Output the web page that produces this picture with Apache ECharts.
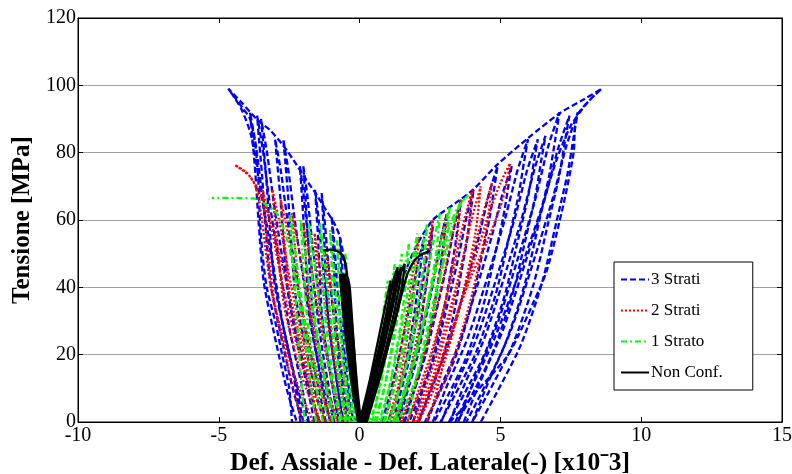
<!DOCTYPE html>
<html>
<head>
    <meta content="text/html; charset=UTF-8" http-equiv="Content-Type">
    <title>Tensione - deformazione</title>
    <style>
        html, body {
            height: 100%;
            width: 100%;
            margin: 0;
            padding: 0;
            background: #fff;
        }
    </style>
    <script src="https://cdn.jsdelivr.net/npm/echarts@6/dist/echarts.min.js"></script>
</head>
<body>
<div id="main" style="width: 792px; height: 474px;"></div>

<script type="text/javascript">
    // assi
    var xTicks = [-10, -5, 0, 5, 10, 15];
    var yTicks = [0, 20, 40, 60, 80, 100, 120];
    var lengend = ['3 Strati', '2 Strati', '1 Strato', 'Non Conf.'];

    // 3 strati - lato assiale (destra)
    var strati3Dx = [
        [[0.05, 0], [0.5, 15], [1.0, 30], [1.5, 42], [2.0, 52], [2.6, 60], [3.4, 65], [4.03, 69], [4.87, 76.3], [5.98, 84.3], [7.12, 91.8], [8.0, 96], [8.6, 99]],
        [[0.8, 0], [1.0, 6], [1.3, 16], [1.65, 29], [1.9, 40], [2.15, 50], [2.3, 55], [2.22, 50], [2.1, 42], [1.92, 31], [1.62, 17], [1.3, 7], [1.0, 0]],
        [[1.2, 0], [1.4, 7], [1.72, 17], [2.04, 31], [2.26, 42], [2.45, 52], [2.6, 58], [2.54, 53], [2.46, 46], [2.32, 38], [2.12, 26], [1.84, 15], [1.54, 6], [1.31, 0]],
        [[1.4, 0], [1.64, 7.4], [2.03, 18.6], [2.42, 33.5], [2.69, 44.6], [2.91, 55.2], [3.1, 62], [3.03, 57], [2.93, 49.6], [2.76, 40.3], [2.52, 27.9], [2.18, 15.5], [1.81, 6.2], [1.54, 0]],
        [[1.6, 0], [1.88, 7.9], [2.34, 19.8], [2.8, 35.6], [3.12, 47.5], [3.38, 58.7], [3.6, 66], [3.52, 60.7], [3.4, 52.8], [3.2, 42.9], [2.92, 29.7], [2.52, 16.5], [2.08, 6.6], [1.76, 0]],
        [[1.9, 0], [2.2, 8.3], [2.7, 20.7], [3.19, 37.3], [3.53, 49.7], [3.81, 61.4], [4.05, 69], [3.96, 63.5], [3.84, 55.2], [3.62, 44.9], [3.32, 31.1], [2.89, 17.3], [2.42, 6.9], [2.07, 0]],
        [[2.1, 0], [2.49, 9.1], [3.14, 22.8], [3.78, 41], [4.23, 54.7], [4.59, 67.6], [4.9, 76], [4.79, 69.9], [4.62, 60.8], [4.34, 49.4], [3.95, 34.2], [3.39, 19], [2.77, 7.6], [2.32, 0]],
        [[2.4, 0], [2.82, 9.1], [3.51, 22.8], [4.2, 41], [4.68, 54.7], [5.07, 67.6], [5.4, 76], [5.28, 69.9], [5.1, 60.8], [4.8, 49.4], [4.38, 34.2], [3.78, 19], [3.12, 7.6], [2.64, 0]],
        [[2.6, 0], [3.07, 10.1], [3.85, 25.2], [4.63, 45.4], [5.17, 60.5], [5.61, 74.8], [5.98, 84], [5.84, 77.3], [5.64, 67.2], [5.3, 54.6], [4.83, 37.8], [4.15, 21], [3.41, 8.4], [2.87, 0]],
        [[2.9, 0], [3.38, 10.1], [4.17, 25.2], [4.96, 45.4], [5.51, 60.5], [5.95, 74.8], [6.33, 84], [6.19, 77.3], [5.99, 67.2], [5.64, 54.6], [5.16, 37.8], [4.48, 21], [3.72, 8.4], [3.17, 0]],
        [[3.2, 0], [3.68, 10.2], [4.46, 25.5], [5.24, 45.9], [5.78, 61.2], [6.23, 75.7], [6.6, 85], [6.46, 78.2], [6.26, 68], [5.92, 55.3], [5.44, 38.3], [4.76, 21.3], [4.02, 8.5], [3.47, 0]],
        [[3.5, 0], [4.0, 11], [4.83, 27.6], [5.66, 49.7], [6.24, 66.2], [6.7, 81.9], [7.1, 92], [6.96, 84.6], [6.74, 73.6], [6.38, 59.8], [5.88, 41.4], [5.16, 23], [4.36, 9.2], [3.79, 0]],
        [[3.7, 0], [4.23, 10.9], [5.09, 27.3], [5.95, 49.1], [6.55, 65.5], [7.04, 81], [7.45, 91], [7.3, 83.7], [7.08, 72.8], [6.7, 59.2], [6.18, 41], [5.43, 22.8], [4.6, 9.1], [4.0, 0]],
        [[4.0, 0], [4.53, 11], [5.39, 27.6], [6.25, 49.7], [6.85, 66.2], [7.34, 81.9], [7.75, 92], [7.6, 84.6], [7.38, 73.6], [7.0, 59.8], [6.48, 41.4], [5.73, 23], [4.9, 9.2], [4.3, 0]],
        [[3.4, 0], [3.9, 9], [4.8, 25], [5.7, 45], [6.4, 62], [7.0, 78], [7.5, 88], [8.1, 95], [8.6, 99], [7.72, 91], [7.6, 80], [7.25, 65], [6.65, 45], [6.2, 36], [5.6, 25], [5.2, 19], [4.2, 9.5], [3.6, 3.5], [3.2, 0]]
    ];
    // 3 strati - lato laterale (sinistra)
    var strati3Sx = [
        [[-0.05, 0], [-0.2, 15], [-0.35, 30], [-0.5, 45], [-0.7, 55], [-0.93, 59.5], [-1.2, 63], [-1.52, 67.4], [-1.9, 72], [-2.23, 76.3], [-2.7, 82], [-3.18, 86.7], [-3.6, 89.5], [-4.2, 95], [-4.66, 99]],
        [[-0.15, 0], [-0.23, 6.6], [-0.35, 16.5], [-0.48, 29.7], [-0.57, 39.6], [-0.64, 49], [-0.7, 55], [-0.68, 50.6], [-0.65, 44], [-0.61, 35.8], [-0.56, 24.8], [-0.43, 13.8], [-0.32, 5.5], [-0.22, 0]],
        [[-0.3, 0], [-0.4, 7.3], [-0.56, 18.3], [-0.71, 32.9], [-0.82, 43.9], [-0.91, 54.3], [-0.99, 61], [-0.96, 56.1], [-0.92, 48.8], [-0.88, 39.7], [-0.81, 27.5], [-0.65, 15.3], [-0.51, 6.1], [-0.38, 0]],
        [[-0.45, 0], [-0.58, 8.2], [-0.78, 20.4], [-0.99, 36.7], [-1.13, 49], [-1.25, 60.5], [-1.35, 68], [-1.31, 62.6], [-1.26, 54.4], [-1.21, 44.2], [-1.12, 30.6], [-0.9, 17], [-0.72, 6.8], [-0.56, 0]],
        [[-0.6, 0], [-0.74, 8.3], [-0.96, 20.7], [-1.19, 37.3], [-1.34, 49.7], [-1.47, 61.4], [-1.58, 69], [-1.54, 63.5], [-1.48, 55.2], [-1.42, 44.9], [-1.33, 31.1], [-1.09, 17.3], [-0.89, 6.9], [-0.72, 0]],
        [[-0.75, 0], [-0.93, 9.1], [-1.21, 22.8], [-1.5, 41], [-1.7, 54.7], [-1.86, 67.6], [-2.0, 76], [-1.95, 69.9], [-1.88, 60.8], [-1.8, 49.4], [-1.68, 34.2], [-1.38, 19], [-1.13, 7.6], [-0.9, 0]],
        [[-0.9, 0], [-1.07, 9.1], [-1.35, 22.8], [-1.63, 41], [-1.83, 54.7], [-1.99, 67.6], [-2.12, 76], [-2.07, 69.9], [-2.0, 60.8], [-1.92, 49.4], [-1.8, 34.2], [-1.51, 19], [-1.27, 7.6], [-1.05, 0]],
        [[-1.05, 0], [-1.28, 10.1], [-1.66, 25.2], [-2.05, 45.4], [-2.31, 60.5], [-2.53, 74.8], [-2.71, 84], [-2.64, 77.3], [-2.54, 67.2], [-2.44, 54.6], [-2.28, 37.8], [-1.88, 21], [-1.55, 8.4], [-1.25, 0]],
        [[-1.2, 0], [-1.45, 10.1], [-1.87, 25.2], [-2.28, 45.4], [-2.57, 60.5], [-2.8, 74.8], [-3.0, 84], [-2.93, 77.3], [-2.82, 67.2], [-2.71, 54.6], [-2.53, 37.8], [-2.1, 21], [-1.74, 8.4], [-1.42, 0]],
        [[-1.6, 0], [-1.87, 10.8], [-2.3, 27], [-2.74, 48.6], [-3.04, 64.8], [-3.29, 80.1], [-3.5, 90], [-3.42, 82.8], [-3.31, 72], [-3.2, 58.5], [-3.01, 40.5], [-2.55, 22.5], [-2.17, 9], [-1.83, 0]],
        [[-1.8, 0], [-2.06, 10.9], [-2.48, 27.3], [-2.9, 49.1], [-3.2, 65.5], [-3.44, 81], [-3.64, 91], [-3.57, 83.7], [-3.46, 72.8], [-3.35, 59.2], [-3.16, 41], [-2.72, 22.8], [-2.35, 9.1], [-2.02, 0]],
        [[-2.0, 0], [-2.26, 11], [-2.7, 27.6], [-3.13, 49.7], [-3.44, 66.2], [-3.68, 81.9], [-3.89, 92], [-3.81, 84.6], [-3.7, 73.6], [-3.59, 59.8], [-3.4, 41.4], [-2.95, 23], [-2.57, 9.2], [-2.23, 0]],
        [[-2.1, 0], [-2.35, 14], [-2.75, 30], [-3.15, 50], [-3.5, 68], [-3.85, 85], [-4.2, 93], [-4.66, 99], [-4.13, 93], [-3.89, 90], [-3.7, 82], [-3.6, 72], [-3.54, 60], [-3.45, 50], [-3.3, 40], [-3.0, 30], [-2.75, 20], [-2.5, 10], [-2.4, 0]]
    ];
    // 2 strati - destra
    var strati2Dx = [
        [[0.9, 0], [1.34, 16.5], [1.69, 33], [1.93, 46.8], [2.1, 55], [2.0, 44], [1.74, 27.5], [1.38, 11], [1.0, 0]],
        [[1.1, 0], [1.66, 18], [2.09, 36], [2.39, 51], [2.6, 60], [2.48, 48], [2.15, 30], [1.7, 12], [1.22, 0]],
        [[1.3, 0], [1.97, 18.6], [2.49, 37.2], [2.85, 52.7], [3.1, 62], [2.96, 49.6], [2.56, 31], [2.02, 12.4], [1.44, 0]],
        [[1.5, 0], [2.28, 19.8], [2.89, 39.6], [3.31, 56.1], [3.6, 66], [3.43, 52.8], [2.97, 33], [2.34, 13.2], [1.67, 0]],
        [[1.7, 0], [2.55, 20.7], [3.22, 41.4], [3.68, 58.7], [4.0, 69], [3.82, 55.2], [3.31, 34.5], [2.62, 13.8], [1.88, 0]],
        [[1.9, 0], [2.79, 21], [3.48, 42], [3.96, 59.5], [4.3, 70], [4.11, 56], [3.58, 35], [2.86, 14], [2.09, 0]],
        [[2.1, 0], [3.06, 21.3], [3.82, 42.6], [4.34, 60.4], [4.7, 71], [4.49, 56.8], [3.92, 35.5], [3.14, 14.2], [2.31, 0]],
        [[2.0, 0], [2.6, 12], [3.3, 28], [4.0, 46], [4.6, 62], [5.0, 71], [5.34, 76.8], [5.2, 70], [5.0, 64], [4.5, 53], [4.0, 44], [3.6, 35], [3.0, 18], [2.7, 8], [2.4, 0]]
    ];
    // 2 strati - sinistra
    var strati2Sx = [
        [[-0.3, 0], [-0.63, 15.6], [-0.89, 31.2], [-1.07, 44.2], [-1.2, 52], [-1.13, 41.6], [-1.0, 26], [-0.71, 10.4], [-0.41, 0]],
        [[-0.45, 0], [-0.88, 16.8], [-1.21, 33.6], [-1.44, 47.6], [-1.6, 56], [-1.51, 44.8], [-1.35, 28], [-0.97, 11.2], [-0.59, 0]],
        [[-0.6, 0], [-1.12, 17.7], [-1.52, 35.4], [-1.8, 50.2], [-2.0, 59], [-1.89, 47.2], [-1.69, 29.5], [-1.23, 11.8], [-0.77, 0]],
        [[-0.8, 0], [-1.39, 18.6], [-1.86, 37.2], [-2.18, 52.7], [-2.4, 62], [-2.27, 49.6], [-2.05, 31], [-1.52, 12.4], [-0.99, 0]],
        [[-1.0, 0], [-1.67, 19.8], [-2.19, 39.6], [-2.55, 56.1], [-2.8, 66], [-2.66, 52.8], [-2.4, 33], [-1.81, 13.2], [-1.22, 0]],
        [[-1.2, 0], [-1.9, 20.7], [-2.45, 41.4], [-2.83, 58.7], [-3.1, 69], [-2.95, 55.2], [-2.68, 34.5], [-2.06, 13.8], [-1.43, 0]],
        [[-1.4, 0], [-2.16, 20.7], [-2.75, 41.4], [-3.16, 58.7], [-3.45, 69], [-3.29, 55.2], [-3.0, 34.5], [-2.32, 13.8], [-1.65, 0]],
        [[-1.5, 0], [-1.75, 12], [-2.2, 28], [-2.7, 45], [-3.1, 58], [-3.5, 67], [-3.9, 73], [-4.42, 76.3], [-4.0, 74], [-3.7, 70], [-3.5, 62], [-3.35, 52], [-3.15, 40], [-2.85, 28], [-2.5, 15], [-2.2, 5], [-2.05, 0]]
    ];
    // 1 strato - destra
    var strato1Dx = [
        [[0.2, 0], [0.5, 12.6], [0.73, 25.2], [0.89, 35.7], [1.0, 42], [0.94, 33.6], [0.76, 21], [0.52, 8.4], [0.26, 0]],
        [[0.3, 0], [0.65, 14.1], [0.93, 28.2], [1.12, 40], [1.25, 47], [1.17, 37.6], [0.97, 23.5], [0.68, 9.4], [0.38, 0]],
        [[0.45, 0], [0.84, 15], [1.14, 30], [1.35, 42.5], [1.5, 50], [1.42, 40], [1.19, 25], [0.87, 10], [0.53, 0]],
        [[0.6, 0], [1.03, 15.9], [1.36, 31.8], [1.59, 45], [1.75, 53], [1.66, 42.4], [1.41, 26.5], [1.06, 10.6], [0.69, 0]],
        [[0.75, 0], [1.23, 16.8], [1.61, 33.6], [1.87, 47.6], [2.05, 56], [1.95, 44.8], [1.66, 28], [1.27, 11.2], [0.85, 0]],
        [[0.9, 0], [1.46, 17.7], [1.89, 35.4], [2.19, 50.2], [2.4, 59], [2.28, 47.2], [1.95, 29.5], [1.5, 11.8], [1.02, 0]],
        [[1.05, 0], [1.72, 18.6], [2.24, 37.2], [2.6, 52.7], [2.85, 62], [2.71, 49.6], [2.31, 31], [1.77, 12.4], [1.19, 0]],
        [[1.2, 0], [1.94, 19.2], [2.52, 38.4], [2.92, 54.4], [3.2, 64], [3.04, 51.2], [2.6, 32], [2.0, 12.8], [1.36, 0]],
        [[1.3, 0], [1.7, 12], [2.2, 28], [2.7, 45], [3.1, 56], [3.5, 64], [3.86, 67.4], [3.6, 65], [3.3, 58], [3.0, 48], [2.6, 35], [2.2, 20], [1.9, 8], [1.7, 0]]
    ];
    // 1 strato - sinistra
    var strato1Sx = [
        [[-0.1, 0], [-0.25, 15], [-0.36, 30], [-0.44, 42.5], [-0.5, 50], [-0.47, 40], [-0.41, 25], [-0.28, 10], [-0.15, 0]],
        [[-0.2, 0], [-0.42, 16.2], [-0.6, 32.4], [-0.72, 45.9], [-0.8, 54], [-0.75, 43.2], [-0.67, 27], [-0.47, 10.8], [-0.27, 0]],
        [[-0.35, 0], [-0.61, 17.1], [-0.81, 34.2], [-0.95, 48.5], [-1.05, 57], [-0.99, 45.6], [-0.9, 28.5], [-0.67, 11.4], [-0.43, 0]],
        [[-0.5, 0], [-0.83, 17.7], [-1.09, 35.4], [-1.27, 50.2], [-1.4, 59], [-1.33, 47.2], [-1.2, 29.5], [-0.91, 11.8], [-0.61, 0]],
        [[-0.7, 0], [-1.11, 17.7], [-1.43, 35.4], [-1.65, 50.2], [-1.8, 59], [-1.71, 47.2], [-1.56, 29.5], [-1.2, 11.8], [-0.83, 0]],
        [[-0.95, 0], [-1.38, 18], [-1.71, 36], [-1.94, 51], [-2.1, 60], [-2.01, 48], [-1.85, 30], [-1.47, 12], [-1.09, 0]],
        [[-1.3, 0], [-1.73, 18.5], [-2.07, 36.9], [-2.31, 52.3], [-2.47, 61.5], [-2.45, 57], [-2.4, 50], [-2.3, 40], [-2.2, 28], [-2.1, 15], [-2.0, 5], [-1.95, 0]],
        [[-1.55, 0], [-1.75, 12], [-2.0, 28], [-2.3, 44], [-2.6, 55], [-2.95, 62], [-3.3, 64.4], [-3.77, 66.4], [-5.25, 66.6]]
    ];
    // non confinato
    var nonConfDx = [
        [[0, 0], [0.35, 12], [0.7, 26], [1.0, 38], [1.1, 42], [1.05, 36], [0.8, 24], [0.45, 11], [0.08, 0]],
        [[0, 0], [0.4, 12], [0.8, 26], [1.1, 38], [1.25, 43], [1.2, 36], [0.9, 24], [0.5, 11], [0.1, 0]],
        [[0, 0], [0.5, 15], [0.9, 30], [1.2, 42], [1.35, 46], [1.3, 40], [1.0, 28], [0.6, 14], [0.15, 0]],
        [[0.02, 0], [0.55, 15], [0.98, 30], [1.3, 42], [1.48, 46], [1.4, 40], [1.08, 27], [0.68, 14], [0.2, 0]],
        [[0.05, 0], [0.6, 15], [1.05, 30], [1.4, 43], [1.6, 47], [1.5, 40], [1.15, 27], [0.75, 14], [0.25, 0]],
        [[0.1, 0], [0.7, 14], [1.2, 28], [1.5, 38], [1.7, 44], [1.95, 48], [2.2, 49.8], [2.5, 50.8]]
    ];
    var nonConfSx = [
        [[0, 0], [-0.1, 10], [-0.2, 22], [-0.28, 32], [-0.35, 40], [-0.42, 43], [-0.38, 36], [-0.27, 22], [-0.15, 10], [-0.03, 0]],
        [[0, 0], [-0.12, 10], [-0.25, 22], [-0.35, 32], [-0.45, 40], [-0.55, 44], [-0.5, 36], [-0.35, 22], [-0.2, 10], [-0.05, 0]],
        [[0, 0], [-0.14, 10], [-0.28, 22], [-0.4, 32], [-0.52, 40], [-0.62, 44], [-0.55, 35], [-0.39, 21], [-0.21, 9], [-0.05, 0]],
        [[0, 0], [-0.15, 10], [-0.3, 22], [-0.45, 33], [-0.6, 40], [-0.7, 44], [-0.6, 34], [-0.42, 20], [-0.22, 8], [-0.05, 0]],
        [[0.05, 0], [-0.08, 10], [-0.2, 22], [-0.3, 32], [-0.4, 40], [-0.48, 46], [-0.6, 49.5], [-0.8, 50.8], [-1.05, 51.2], [-1.3, 51]]
    ];

    var stili = [
        {color: '#0000ff', type: [6, 3], width: 2.3},
        {color: '#ff0000', type: [2, 2], width: 2.3},
        {color: '#00ff00', type: [6, 3, 2, 3], width: 2.3},
        {color: '#000000', type: 'solid', width: 2.3}
    ];
    var gruppi = [
        strati3Dx.concat(strati3Sx),
        strati2Dx.concat(strati2Sx),
        strato1Dx.concat(strato1Sx),
        nonConfDx.concat(nonConfSx)
    ];

    function createChart() {
        var myChart = echarts.init(document.getElementById('main'));
        var font = 'Liberation Serif';
        var series = [];
        for (var g = 0; g < gruppi.length; g++) {
            for (var i = 0; i < gruppi[g].length; i++) {
                series.push({
                    name: lengend[g],
                    type: 'line',
                    data: gruppi[g][i],
                    symbol: 'none',
                    smooth: 0.25,
                    silent: true,
                    z: 2 + g,
                    lineStyle: {
                        color: stili[g].color,
                        type: stili[g].type,
                        width: stili[g].width
                    },
                    itemStyle: {color: stili[g].color}
                });
            }
        }
        var option = {
            animation: false,
            grid: {
                left: 78,
                right: 10,
                top: 18,
                bottom: 52,
                outerBoundsMode: 'none',
                containLabel: false,
                show: true,
                borderColor: '#000',
                borderWidth: 1
            },
            legend: {
                data: lengend,
                orient: 'vertical',
                left: 614,
                top: 262,
                itemWidth: 28,
                itemHeight: 14,
                itemGap: 14,
                padding: [9, 30, 9, 6],
                backgroundColor: '#fff',
                borderColor: '#000',
                borderWidth: 1,
                borderRadius: 0,
                itemStyle: {opacity: 0},
                textStyle: {
                    fontFamily: font,
                    fontSize: 17,
                    color: '#000',
                    padding: [0, 0, 0, -3]
                }
            },
            xAxis: [{
                type: 'value',
                min: xTicks[0],
                max: xTicks[xTicks.length - 1],
                interval: 5,
                name: 'Def. Assiale - Def. Laterale(-) [x10ˉ3]',
                nameLocation: 'middle',
                nameGap: 27,
                nameTextStyle: {
                    fontFamily: font,
                    fontSize: 25.5,
                    fontWeight: 'bold',
                    color: '#000'
                },
                axisLine: {onZero: false, lineStyle: {color: '#000', width: 1}},
                axisTick: {inside: true, length: 5, lineStyle: {color: '#000'}},
                axisLabel: {
                    fontFamily: font,
                    fontSize: 20,
                    color: '#000',
                    margin: 4
                },
                splitLine: {show: false}
            }, {
                type: 'value',
                position: 'top',
                min: xTicks[0],
                max: xTicks[xTicks.length - 1],
                interval: 5,
                axisLine: {onZero: false, lineStyle: {color: '#000'}},
                axisTick: {inside: true, length: 5, lineStyle: {color: '#000'}},
                axisLabel: {show: false},
                splitLine: {show: false}
            }],
            yAxis: [{
                type: 'value',
                min: yTicks[0],
                max: yTicks[yTicks.length - 1],
                interval: 20,
                name: 'Tensione [MPa]',
                nameLocation: 'middle',
                nameGap: 36,
                nameTextStyle: {
                    fontFamily: font,
                    fontSize: 25,
                    fontWeight: 'bold',
                    color: '#000'
                },
                axisLine: {show: true, onZero: false, lineStyle: {color: '#000', width: 1}},
                axisTick: {show: true, inside: true, length: 5, lineStyle: {color: '#000'}},
                axisLabel: {
                    fontFamily: font,
                    fontSize: 20,
                    color: '#000',
                    margin: 2
                },
                splitLine: {show: true, lineStyle: {color: '#a0a0a0', width: 1}}
            }, {
                type: 'value',
                position: 'right',
                min: yTicks[0],
                max: yTicks[yTicks.length - 1],
                interval: 20,
                axisLine: {show: true, onZero: false, lineStyle: {color: '#000'}},
                axisTick: {show: true, inside: true, length: 5, lineStyle: {color: '#000'}},
                axisLabel: {show: false},
                splitLine: {show: false}
            }],
            series: series
        };
        myChart.setOption(option);
    }
    createChart();
</script>
</body>
</html>
